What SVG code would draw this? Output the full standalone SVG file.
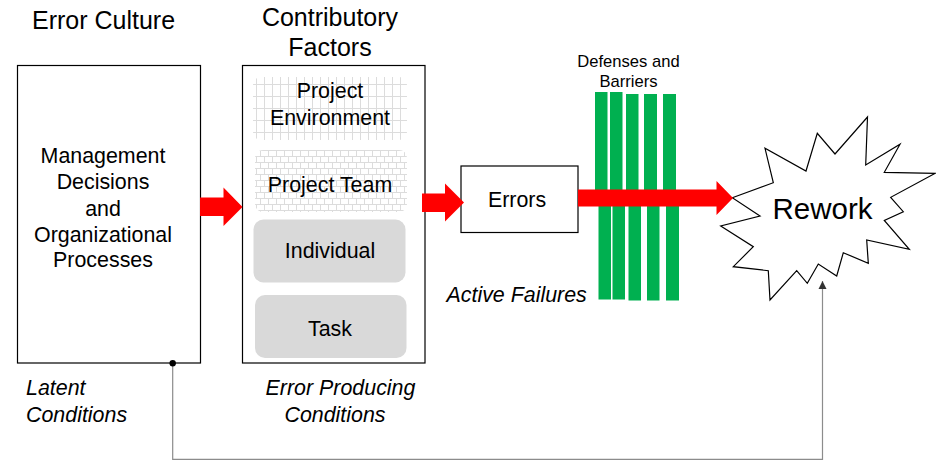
<svg xmlns="http://www.w3.org/2000/svg" width="936" height="462" viewBox="0 0 936 462">
  <style>
    text { font-family: "Liberation Sans", Arial, sans-serif; fill: #000; font-size: 21.4px; }
    .c { text-anchor: middle; }
    .it { font-style: italic; }
    .head { font-size: 25px; }
    .sm { font-size: 16.6px; }
    .big { font-size: 29.5px; }
    .box { fill: #fff; stroke: #000; stroke-width: 1.2; }
    .pill { fill: #d9d9d9; }
    .red { fill: #ff0000; }
    .bar { fill: #00b050; }
    .link { fill: none; stroke: #8c8c8c; stroke-width: 1.2; }
  </style>
  <defs>
    <pattern id="grid" width="8" height="12" patternUnits="userSpaceOnUse">
      <rect width="8" height="12" fill="#fff"/>
      <path d="M0.5 0V12M0 0.5H8" stroke="#dcdcdc" stroke-width="1" fill="none"/>
    </pattern>
    <pattern id="brick" width="16" height="12" patternUnits="userSpaceOnUse">
      <rect width="16" height="12" fill="#fff"/>
      <path d="M0 0.5H16M0 6.5H16M0.5 0V6M8.5 0V6M4.5 6V12M12.5 6V12" stroke="#dcdcdc" stroke-width="1" fill="none"/>
    </pattern>
    <marker id="tip" viewBox="0 0 10 10" refX="10" refY="5" markerWidth="7" markerHeight="7" orient="auto">
      <path d="M0 0L10 5L0 10Z" fill="#333"/>
    </marker>
  </defs>

  <!-- column headings -->
  <g id="titles">
    <text class="c head" x="103.5" y="29">Error Culture</text>
    <text class="c head" x="330" y="26">Contributory</text>
    <text class="c head" x="330" y="56">Factors</text>
  </g>

  <!-- latent condition source -->
  <g id="management">
    <rect class="box" x="17.5" y="65.5" width="183" height="297.5"/>
    <text class="c" x="103" y="163">Management</text>
    <text class="c" x="103" y="189">Decisions</text>
    <text class="c" x="103" y="216">and</text>
    <text class="c" x="103" y="242">Organizational</text>
    <text class="c" x="103" y="267">Processes</text>
  </g>

  <!-- contributory factors panel -->
  <g id="factors">
    <rect class="box" x="242.5" y="65.5" width="182.5" height="297.5"/>
  </g>
  <g id="environment">
    <rect x="253" y="77" width="154" height="63" rx="8" fill="url(#grid)"/>
    <text class="c" x="330" y="98">Project</text>
    <text class="c" x="330" y="125">Environment</text>
  </g>
  <g id="team">
    <rect x="255" y="150" width="152" height="62" rx="8" fill="url(#brick)"/>
    <text class="c" x="330" y="192">Project Team</text>
  </g>
  <g id="individual">
    <rect class="pill" x="253.5" y="219.5" width="152" height="63" rx="10"/>
    <text class="c" x="330" y="258">Individual</text>
  </g>
  <g id="task">
    <rect class="pill" x="255" y="295" width="151.5" height="63" rx="10"/>
    <text class="c" x="330" y="336">Task</text>
  </g>

  <!-- errors -->
  <g id="errors">
    <rect class="box" x="461" y="166" width="117" height="66.5"/>
    <text class="c" x="517" y="207">Errors</text>
  </g>

  <!-- defenses: bars split where the failure arrow passes -->
  <g id="defenses">
    <text class="c sm" x="628.5" y="67">Defenses and</text>
    <text class="c sm" x="628.5" y="87">Barriers</text>
    <rect class="bar" x="595" y="92" width="12.5" height="106"/>
    <rect class="bar" x="610" y="92" width="12.5" height="106"/>
    <rect class="bar" x="626" y="94" width="12.5" height="104"/>
    <rect class="bar" x="644" y="94" width="13" height="104"/>
    <rect class="bar" x="663" y="94" width="13" height="104"/>
    <rect class="bar" x="598.5" y="198" width="12.5" height="101.5"/>
    <rect class="bar" x="612.5" y="198" width="12.5" height="101.5"/>
    <rect class="bar" x="628.5" y="198" width="12.5" height="102.5"/>
    <rect class="bar" x="647" y="198" width="12.5" height="102.5"/>
    <rect class="bar" x="666" y="198" width="13" height="102.5"/>
  </g>

  <!-- rework burst -->
  <g id="rework">
    <polygon points="732.3,197.7 773.3,182.7 765,148.3 806,171 817.3,133.3 835,154 867.5,117 865.7,165 900,144.3 884.3,172.3 935.3,173.3 890.7,197.3 903.3,211.7 884.3,220.5 909.3,249.3 866.7,240 868.3,263.3 843.3,252.7 836.7,276 818.3,264 807.3,283.3 796.7,270.7 770,300 768.3,270.7 733.3,266.7 753.3,246.7 720.7,226 760,216" fill="#fff" stroke="#000" stroke-width="1.2" stroke-linejoin="miter"/>
    <text class="c big" x="822.5" y="219">Rework</text>
  </g>

  <!-- condition labels -->
  <g id="labels">
    <text class="it" x="26" y="395">Latent</text>
    <text class="it" x="26" y="422">Conditions</text>
    <text class="it c" x="340.5" y="395">Error Producing</text>
    <text class="it c" x="335" y="422">Conditions</text>
    <text class="it" x="446.5" y="302">Active Failures</text>
  </g>

  <!-- connectors -->
  <g id="connectors">
    <polygon class="red" points="200,197.5 223.5,197.5 223.5,187.5 242.5,207 223.5,226 223.5,216 200,216"/>
    <polygon class="red" points="422,193.5 445,193.5 445,183.5 464,202.5 445,221.5 445,212 422,212"/>
    <polygon class="red" points="578,189.5 716.5,189.5 716.5,181 733,198 716.5,215 716.5,206.5 578,206.5"/>
    <path class="link" d="M172.7 363.3V459.3H822.5V281" marker-end="url(#tip)"/>
    <circle cx="172.7" cy="363.3" r="3.2" fill="#000"/>
  </g>
</svg>
